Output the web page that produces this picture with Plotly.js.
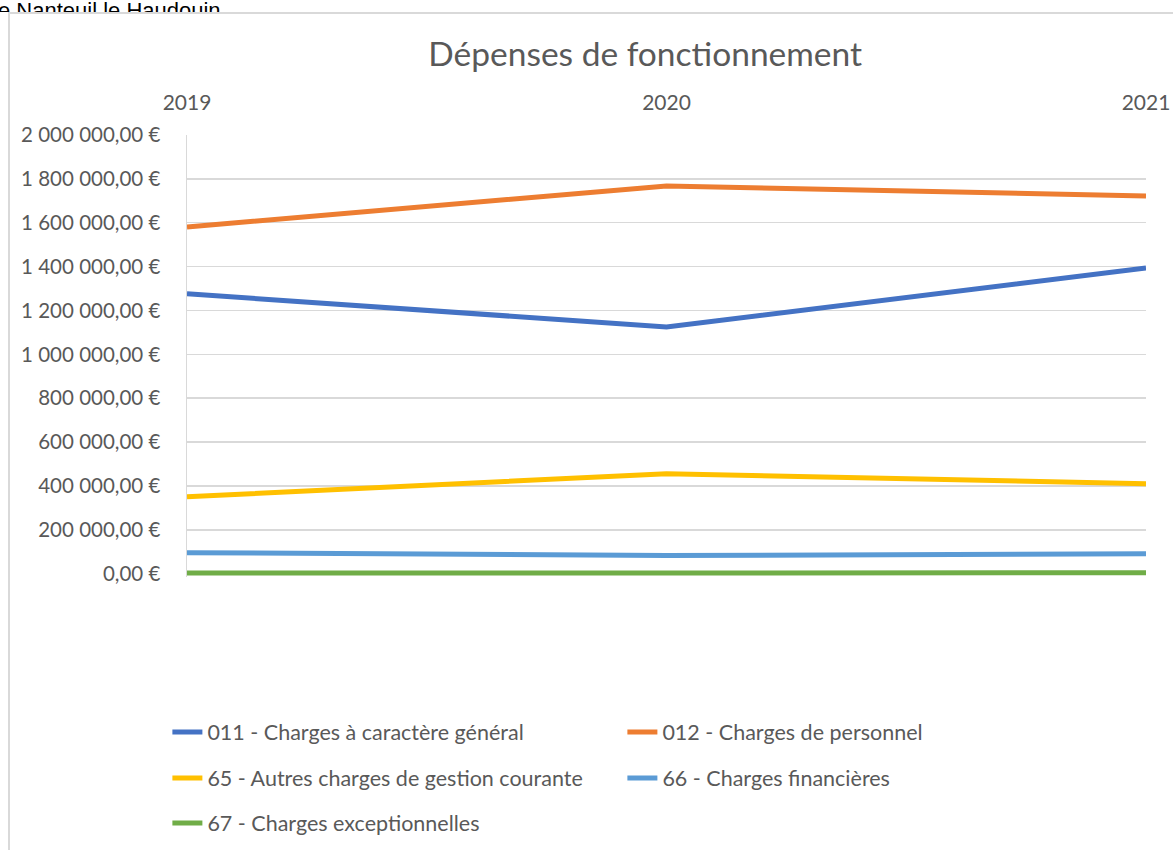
<!DOCTYPE html>
<html>
<head>
<meta charset="utf-8">
<script src="https://cdn.plot.ly/plotly-3.0.1.min.js"></script>
<style>
  html, body { margin: 0; padding: 0; background: #ffffff; }
  #clip { position: absolute; left: -2px; top: 0; height: 12px; overflow: hidden; white-space: nowrap;
          font-family: "Liberation Sans", Arial, sans-serif; font-size: 22px; line-height: 22px; color: #000; }
  #frame { position: absolute; left: 8px; top: 12px; width: 1170px; height: 845px;
           border-left: 2px solid #d9d9d9; border-top: 2px solid #d9d9d9; background: #fff; }
  #chart { position: absolute; left: 0; top: 0; width: 1173px; height: 850px; }
</style>
</head>
<body>
<div id="clip">e Nanteuil le Haudouin</div>
<div id="frame"></div>
<div id="chart"></div>
<script>
const years = [2019, 2020, 2021];
const yearLabels = ["2019", "2020", "2021"];
const seriesNames = [
  "011 - Charges à caractère général",
  "012 - Charges de personnel",
  "65 - Autres charges de gestion courante",
  "66 - Charges financières",
  "67 - Charges exceptionnelles"
];
const charges011 = [1276000, 1125000, 1394000];
const charges012 = [1581000, 1768000, 1722000];
const charges65 = [351000, 456000, 410000];
const charges66 = [96000, 83000, 91000];
const charges67 = [3000, 1000, 4000];
const yTicks = [0, 200000, 400000, 600000, 800000, 1000000, 1200000, 1400000, 1600000, 1800000, 2000000];

function euro(v) {
  const s = String(Math.round(v));
  const grouped = s.replace(/\B(?=(\d{3})+(?!\d))/g, " ");
  return grouped + ",00 €";
}
const yTickLabels = yTicks.map(euro);

const colors = ["#4472C4", "#ED7D31", "#FFC000", "#5B9BD5", "#70AD47"];
const values = [charges011, charges012, charges65, charges66, charges67];
const legendIds = ["legend", "legend", "legend2", "legend2", "legend3"];

const traces = values.map((v, i) => ({
  type: "scatter",
  mode: "lines",
  x: years,
  y: v,
  name: seriesNames[i],
  legend: legendIds[i],
  line: { color: colors[i], width: 5 },
  hoverinfo: "skip"
}));

const fontFam = "Lato, 'Open Sans', sans-serif";
const legendBase = {
  orientation: "h",
  xref: "container", yref: "container",
  x: 0.1427, xanchor: "left",
  yanchor: "middle",
  bgcolor: "rgba(0,0,0,0)",
  font: { family: fontFam, size: 21.5, color: "#595959" },
  entrywidth: 410,
  entrywidthmode: "pixels",
  itemclick: false
};

const layout = {
  width: 1173,
  height: 850,
  paper_bgcolor: "rgba(0,0,0,0)",
  plot_bgcolor: "rgba(0,0,0,0)",
  margin: { l: 187, r: 27, t: 135, b: 273, autoexpand: false },
  title: {
    text: "Dépenses de fonctionnement",
    font: { family: fontFam, size: 33.5, color: "#595959" },
    xref: "container", yref: "container",
    x: 0.55, xanchor: "center",
    y: 0.9365, yanchor: "middle"
  },
  xaxis: {
    type: "linear",
    range: [2019, 2021],
    side: "top",
    tickvals: years,
    ticktext: yearLabels,
    showgrid: false,
    zeroline: false,
    showline: false,
    ticks: "",
    ticklabelstandoff: 20,
    tickfont: { family: fontFam, size: 21, color: "#595959" },
    fixedrange: true
  },
  yaxis: {
    range: [-15000, 2000000],
    tickvals: yTicks,
    ticktext: yTickLabels,
    showgrid: true,
    gridcolor: "#d9d9d9",
    gridwidth: 1.5,
    zeroline: false,
    showline: true,
    linecolor: "#d9d9d9",
    linewidth: 1.5,
    ticks: "",
    ticklabelstandoff: 21,
    tickfont: { family: fontFam, size: 20.5, color: "#595959" },
    fixedrange: true
  },
  legend: Object.assign({}, legendBase, { y: 0.1388 }),
  legend2: Object.assign({}, legendBase, { y: 0.0847 }),
  legend3: Object.assign({}, legendBase, { y: 0.0318 }),
  showlegend: true
};

Plotly.newPlot("chart", traces, layout, { displayModeBar: false, staticPlot: true });
</script>
</body>
</html>
